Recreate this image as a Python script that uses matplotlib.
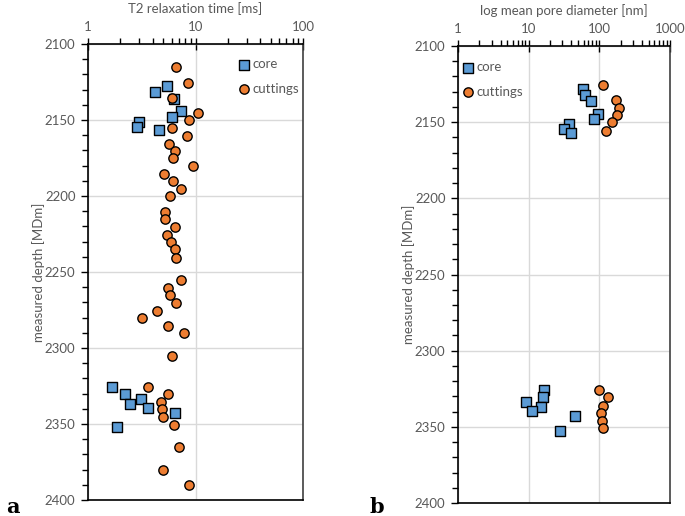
import matplotlib
matplotlib.use("Agg")
import matplotlib.pyplot as plt
from matplotlib.ticker import LogLocator, MultipleLocator, FixedLocator, NullFormatter, FuncFormatter

plt.rcParams['font.family'] = ['Lato', 'DejaVu Sans']

# Panel a: T2 relaxation time [ms]
a_core_depth = [2127.6, 2131.8, 2136.4, 2144.1, 2147.8, 2151.1, 2154.4, 2156.6,
                2325.4, 2330.5, 2333.3, 2336.6, 2339.2, 2342.8, 2352.0]
a_core_t2 = [5.47, 4.17, 6.30, 7.26, 5.99, 2.97, 2.86, 4.54,
             1.67, 2.22, 3.14, 2.47, 3.62, 6.44, 1.86]
a_cut_depth = [2115, 2125.4, 2135.3, 2145.4, 2150.2, 2155.3, 2160.5, 2165.6, 2170.4, 2175.2,
               2180.5, 2185.5, 2190.3, 2195.4, 2200.2, 2210.3, 2215.3, 2220.4, 2225.5, 2230.3,
               2235.1, 2240.6, 2255.5, 2260.5, 2265.3, 2270.4, 2275.7, 2280.5, 2285.5, 2290.3,
               2305.3, 2325.4, 2330.5, 2335.5, 2340.3, 2345.4, 2350.5, 2365.1, 2380.5, 2390.3]
a_cut_t2 = [6.53, 8.49, 6.08, 10.5, 8.74, 6.03, 8.37, 5.62, 6.44, 6.12,
            9.58, 5.09, 6.12, 7.36, 5.74, 5.24, 5.24, 6.44, 5.39, 5.91,
            6.49, 6.57, 7.31, 5.50, 5.83, 6.57, 4.35, 3.16, 5.50, 7.74,
            5.99, 3.62, 5.50, 4.74, 4.91, 4.94, 6.35, 6.96, 4.98, 8.61]

# Panel b: log mean pore diameter [nm]
b_core_depth = [2128.3, 2132.0, 2136.4, 2144.5, 2147.8, 2151.5, 2154.4, 2157.0,
                2325.7, 2330.7, 2333.6, 2337.1, 2339.7, 2343.2, 2352.6]
b_core_d = [59.5, 63.5, 77.2, 95.7, 83.2, 37.8, 31.8, 39.4,
            16.3, 15.9, 9.17, 14.9, 11.1, 45.0, 27.6]
b_cut_depth = [2125.4, 2135.7, 2140.6, 2145.4, 2150.2, 2155.5,
               2325.7, 2330.7, 2336.0, 2340.8, 2345.9, 2350.9]
b_cut_d = [111, 170, 187, 177, 149, 126,
           100, 131, 113, 105, 110, 114]

series_labels = ["core", "cuttings"]
a_xticks = [1, 10, 100]
b_xticks = [1, 10, 100, 1000]
yticks = [2100, 2150, 2200, 2250, 2300, 2350, 2400]

BLUE = "#5B9BD5"
ORANGE = "#ED7D31"
TXT = "#595959"
GRID = "#D9D9D9"

fig = plt.figure(figsize=(6.85, 5.16), dpi=100)
ax_a = fig.add_axes([88/685, 1-500/516, 215/685, 456/516])
ax_b = fig.add_axes([458/685, 1-503/516, 212/685, 457/516])


def style(ax, xticks, xlabel, leg_anchor):
    ax.set_xscale('log')
    ax.set_xlim(xticks[0], xticks[-1])
    ax.set_ylim(2400, 2100)
    ax.xaxis.set_ticks_position('top')
    ax.xaxis.set_label_position('top')
    ax.xaxis.set_major_locator(FixedLocator(xticks))
    ax.xaxis.set_major_formatter(FuncFormatter(lambda v, p: f"{int(round(v))}"))
    ax.xaxis.set_minor_locator(LogLocator(base=10, subs=range(2, 10)))
    ax.xaxis.set_minor_formatter(NullFormatter())
    ax.yaxis.set_major_locator(FixedLocator(yticks))
    ax.yaxis.set_minor_locator(MultipleLocator(10))
    ax.tick_params(axis='x', which='major', direction='inout', length=8, width=1,
                   colors='black', labelcolor=TXT, labelsize=9.5, pad=4)
    ax.tick_params(axis='x', which='minor', direction='out', length=4, width=1, colors='black')
    ax.tick_params(axis='y', which='major', direction='out', length=5, width=1,
                   colors='black', labelcolor=TXT, labelsize=9.5, pad=4)
    ax.tick_params(axis='y', which='minor', direction='out', length=4, width=1, colors='black')
    ax.grid(True, which='major', color=GRID, linewidth=1)
    ax.set_axisbelow(True)
    for s in ['top', 'left', 'bottom']:
        ax.spines[s].set_color('black')
        ax.spines[s].set_linewidth(1.2)
    ax.spines['right'].set_color('#404040')
    ax.spines['right'].set_linewidth(1.2)
    ax.set_xlabel(xlabel, color=TXT, fontsize=9.5, labelpad=6)
    ax.set_ylabel("measured depth [MDm]", color=TXT, fontsize=9.5, labelpad=0)
    leg = ax.legend(loc='upper left', bbox_to_anchor=leg_anchor, frameon=False, fontsize=9.5,
                    handletextpad=0.05, labelspacing=0.95, borderaxespad=0, handlelength=1.2)
    for t in leg.get_texts():
        t.set_color(TXT)


ax_a.scatter(a_core_t2, a_core_depth, marker='s', s=45, c=BLUE, edgecolors='black',
             linewidths=1, label=series_labels[0], zorder=3)
ax_a.scatter(a_cut_t2, a_cut_depth, marker='o', s=45, c=ORANGE, edgecolors='black',
             linewidths=1, label=series_labels[1], zorder=4)
style(ax_a, a_xticks, "T2 relaxation time [ms]", ((231-88)/215, 1-(53-44)/456))

ax_b.scatter(b_core_d, b_core_depth, marker='s', s=45, c=BLUE, edgecolors='black',
             linewidths=1, label=series_labels[0], zorder=3)
ax_b.scatter(b_cut_d, b_cut_depth, marker='o', s=45, c=ORANGE, edgecolors='black',
             linewidths=1, label=series_labels[1], zorder=4)
style(ax_b, b_xticks, "log mean pore diameter [nm]", ((455-458)/212, 1-(56-46)/457))

fig.text(6/685, 1-507/516, "a", fontsize=15, fontweight='bold', family='DejaVu Serif',
         va='center', ha='left')
fig.text(370/685, 1-507/516, "b", fontsize=15, fontweight='bold', family='DejaVu Serif',
         va='center', ha='left')

fig.savefig("out.png", dpi=100)
